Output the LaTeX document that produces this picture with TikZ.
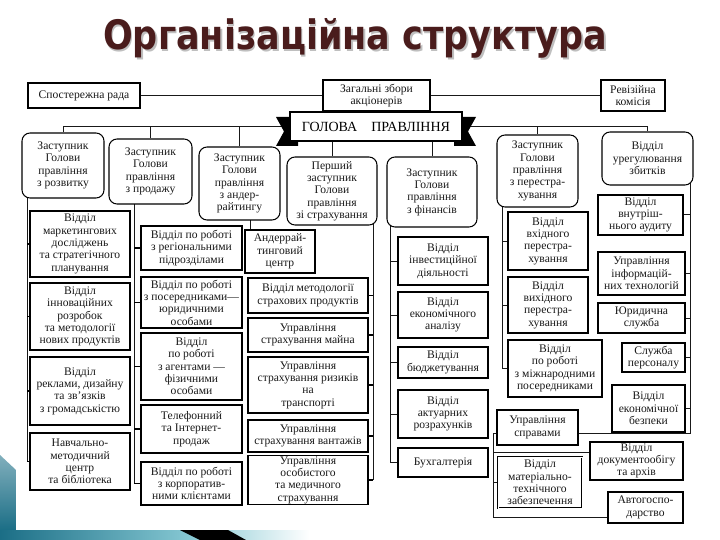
\documentclass[tikz,border=0pt]{standalone}
\usepackage{fontspec}
\usepackage{graphicx}
\setmainfont{Liberation Serif}
\newfontfamily\titlefont{DejaVu Sans}
\usetikzlibrary{calc,backgrounds}
\definecolor{titlec}{HTML}{4A1C1C}
\definecolor{tealA}{HTML}{1B6E86}
\definecolor{tealB}{HTML}{86C8D3}
\pgfdeclarelayer{bottom}
\pgfsetlayers{bottom,background,main}
\begin{document}
\begin{tikzpicture}[x=1pt,y=-1pt,
 bx/.style={draw=black,line width=1.05pt,fill=white,align=center,inner sep=1pt,
   font=\fontsize{11.6}{12.3}\selectfont,text=black!90},
 rbx/.style={bx,rounded corners=8pt},
 tbx/.style={bx,line width=1.8pt},
 dbx/.style={bx,line width=2.8pt,postaction={draw=white,line width=0.9pt}},
 ln/.style={draw=black!90,line width=1pt},
 cn/.style={draw=black,line width=1.7pt}]
\useasboundingbox (0,0) rectangle (720,540);
\begin{pgfonlayer}{bottom}
\fill[white] (0,0) rectangle (720,540);
\end{pgfonlayer}

% title
\node[anchor=base west,inner sep=0pt,text=black!25] at (104.5,51.5)
  {\titlefont\bfseries\resizebox{504pt}{31pt}{Організаційна структура}};
\node[anchor=base west,inner sep=0pt,text=titlec] (title) at (103,50)
  {\titlefont\bfseries\resizebox{504pt}{31pt}{Організаційна структура}};

% decoration
\shade[top color=tealA!55, bottom color=tealA] (0,455) -- (16,470) -- (16,530) -- (0,530) -- cycle;
\shade[left color=tealA, right color=tealB] (0,530) rectangle (190,540);
\shade[left color=tealB, right color=white] (190,530) rectangle (310,540);
\fill[black] (180,530) -- (228,530) -- (246,540) -- (200,540) -- cycle;

% top row
\node[bx,minimum width=112pt,minimum height=25pt] (spr) at (84,95.5) {Спостережна рада};
\node[tbx,minimum width=107pt,minimum height=31pt] (zz) at (376.5,95.5) {Загальні збори\\акціонерів};
\node[bx,minimum width=64pt,minimum height=31pt] (rk) at (633,95.5) {Ревізійна\\комісія};

% banner
\fill[black] (276,117) -- (298,117) -- (298,146) -- (276,146) -- (284,131.5) -- cycle;
\fill[black] (476,117) -- (454,117) -- (454,146) -- (476,146) -- (468,131.5) -- cycle;
\node[draw=black,line width=2.6pt,fill=white,minimum width=172pt,minimum height=29pt,
  font=\fontsize{14}{15}\selectfont] (gp) at (376,126.5) {ГОЛОВА\quad ПРАВЛІННЯ};

% deputies
\node[rbx,minimum width=82pt,minimum height=65pt] (d1) at (63,165.5) {Заступник\\Голови\\правління\\з розвитку};
\node[rbx,minimum width=83pt,minimum height=65pt] (d2) at (150.5,171.5) {Заступник\\Голови\\правління\\з продажу};
\node[rbx,minimum width=81pt,minimum height=73pt] (d3) at (239.5,183.5) {Заступник\\Голови\\правління\\з андер-\\райтингу};
\node[rbx,minimum width=90pt,minimum height=68pt] (d4) at (332,191) {Перший\\заступник\\Голови\\правління\\зі страхування};
\node[rbx,minimum width=90pt,minimum height=70pt] (d5) at (432,192) {Заступник\\Голови\\правління\\з фінансів};
\node[rbx,minimum width=81pt,minimum height=72pt] (d6) at (537.5,171) {Заступник\\Голови\\правління\\з перестра-\\хування};
\node[rbx,minimum width=91pt,minimum height=53pt] (d7) at (647.5,158.5) {Відділ\\урегулювання\\збитків};

% column A
\node[bx,minimum width=100pt,minimum height=66pt] (a1) at (80,244) {Відділ\\маркетингових\\досліджень\\та стратегічного\\планування};
\node[bx,minimum width=100pt,minimum height=67pt] (a2) at (80,316.5) {Відділ\\інноваційних\\розробок\\та методології\\нових продуктів};
\node[bx,minimum width=100pt,minimum height=68pt] (a3) at (80,391) {Відділ\\реклами, дизайну\\та зв'язків\\з громадськістю};
\node[bx,minimum width=100pt,minimum height=57pt] (a4) at (80,461.5) {Навчально-\\методичний\\центр\\та бібліотека};

% column B
\node[tbx,minimum width=101pt,minimum height=44pt] (b1) at (191.5,248) {Відділ по роботі\\з регіональними\\підрозділами};
\node[bx,minimum width=101pt,minimum height=51pt] (b2) at (191.5,302.5) {Відділ по роботі\\з посередниками—\\юридичними\\особами};
\node[bx,minimum width=101pt,minimum height=67pt] (b3) at (191.5,366.5) {Відділ\\по роботі\\з агентами —\\фізичними\\особами};
\node[bx,minimum width=101pt,minimum height=48pt] (b4) at (191.5,429) {Телефонний\\та Інтернет-\\продаж};
\node[bx,minimum width=101pt,minimum height=43pt] (b5) at (191.5,483.5) {Відділ по роботі\\з корпоратив-\\ними клієнтами};

% column C
\node[bx,minimum width=70pt,minimum height=43pt] (c1) at (280,251.5) {Андеррай-\\тинговий\\центр};

% column D
\node[bx,minimum width=120pt,minimum height=35pt] (m1) at (308,295.5) {Відділ методології\\страхових продуктів};
\node[tbx,minimum width=120pt,minimum height=34pt] (m2) at (308,335) {Управління\\страхування майна};
\node[bx,minimum width=120pt,minimum height=56pt] (m3) at (308,385) {Управління\\страхування ризиків\\на\\транспорті};
\node[bx,minimum width=120pt,minimum height=32pt] (m4) at (308,436) {Управління\\страхування вантажів};
\node[tbx,minimum width=120pt,minimum height=46pt] (m5) at (308,480) {Управління\\особистого\\та медичного\\страхування};

% column E
\node[bx,minimum width=90pt,minimum height=48pt] (f1) at (443,261) {Відділ\\інвестиційної\\діяльності};
\node[tbx,minimum width=90pt,minimum height=46pt] (f2) at (443,315) {Відділ\\економічного\\аналізу};
\node[bx,minimum width=90pt,minimum height=31pt] (f3) at (443,362.5) {Відділ\\бюджетування};
\node[bx,minimum width=90pt,minimum height=48pt] (f4) at (443,414) {Відділ\\актуарних\\розрахунків};
\node[bx,minimum width=90pt,minimum height=29pt] (f5) at (443,462.5) {Бухгалтерія};

% column F
\node[bx,minimum width=80pt,minimum height=58pt] (g1) at (548,241) {Відділ\\вхідного\\перестра-\\хування};
\node[bx,minimum width=80pt,minimum height=56pt] (g2) at (548,305) {Відділ\\вихідного\\перестра-\\хування};
\node[bx,minimum width=94pt,minimum height=57pt] (g3) at (555,368.5) {Відділ\\по роботі\\з міжнародними\\посередниками};

% column G
\node[bx,minimum width=85pt,minimum height=40pt] (h1) at (640.5,215) {Відділ\\внутріш-\\нього аудиту};
\node[bx,minimum width=87pt,minimum height=43pt] (h2) at (641.5,273.5) {Управління\\інформацій-\\них технологій};
\node[bx,minimum width=87pt,minimum height=30pt] (h3) at (641.5,318) {Юридична\\служба};
\node[bx,minimum width=63pt,minimum height=29pt] (h4) at (653.5,357.5) {Служба\\персоналу};
\node[tbx,minimum width=73pt,minimum height=47pt] (h5) at (648.5,408.5) {Відділ\\економічної\\безпеки};

% bottom right
\node[bx,minimum width=81pt,minimum height=35pt] (i1) at (537.5,427.5) {Управління\\справами};
\node[bx,minimum width=93pt,minimum height=38pt] (i2) at (636.5,461) {Відділ\\документообігу\\та архів};
\node[dbx,minimum width=84pt,minimum height=51pt] (i3) at (540,482.5) {Відділ\\матеріально-\\технічного\\забезпечення};
\node[tbx,minimum width=75pt,minimum height=31pt] (i4) at (645.5,507.5) {Автогоспо-\\дарство};

% bus coordinates
\coordinate (ax) at (27,0);
\coordinate (bx) at (134,0);
\coordinate (cx) at (250,0);
\coordinate (dx) at (373,0);
\coordinate (ex) at (390,0);
\coordinate (fx) at (502,0);
\coordinate (gx) at (690,0);
\coordinate (gend) at (690,433);
\coordinate (kx) at (493,433);
\coordinate (k2) at (493,452);
\coordinate (kb) at (493,517);

\begin{scope}[on background layer]
\draw[ln] (spr.east) -- (zz.west);
\draw[ln] (zz.east) -- (rk.west);
\draw[ln] (zz.south) -- (gp.north);
\draw[ln] (d1.north |- gp.center) -- (d7.north |- gp.center);
\foreach \n in {d1,d2,d3,d6,d7} \draw[ln] (\n.north |- gp.center) -- (\n.north);
\foreach \n in {d4,d5} \draw[ln] (gp.south -| \n.north) -- (\n.north);
% A
\draw[ln] (ax |- d1.center) -- (ax |- a4.west);
\foreach \n in {a1,a2,a3,a4} \draw[cn] (ax |- \n.west) -- (\n.west);
% B
\draw[ln] (bx |- d2.center) -- (bx |- b5.west);
\foreach \n in {b1,b2,b3,b4,b5} \draw[cn] (bx |- \n.west) -- (\n.west);
% C
\draw[ln] (cx |- d3.center) -- (cx |- c1.north);
% D
\draw[ln] (dx |- d4.center) -- (dx |- m5.east);
\foreach \n in {m1,m2,m3,m4,m5} \draw[cn] (dx |- \n.east) -- (\n.east);
% E
\draw[ln] (ex |- d5.center) -- (ex |- f5.west);
\foreach \n in {f1,f2,f3,f4,f5} \draw[ln] (ex |- \n.west) -- (\n.west);
% F
\draw[ln] (fx |- d6.center) -- (fx |- g3.west);
\foreach \n in {g1,g2,g3} \draw[ln] (fx |- \n.west) -- (\n.west);
% G
\draw[ln] (gx |- d7.center) -- (gend) -- (kx) -- (kb) -- (kb -| i4.west);
\foreach \n in {h1,h2,h3,h4,h5} \draw[ln] (gx |- \n.east) -- (\n.east);
\draw[ln] (k2) -- (k2 -| i2.west);
\draw[ln] (kx |- i3.west) -- (i3.west);
\end{scope}
\end{tikzpicture}
\end{document}
